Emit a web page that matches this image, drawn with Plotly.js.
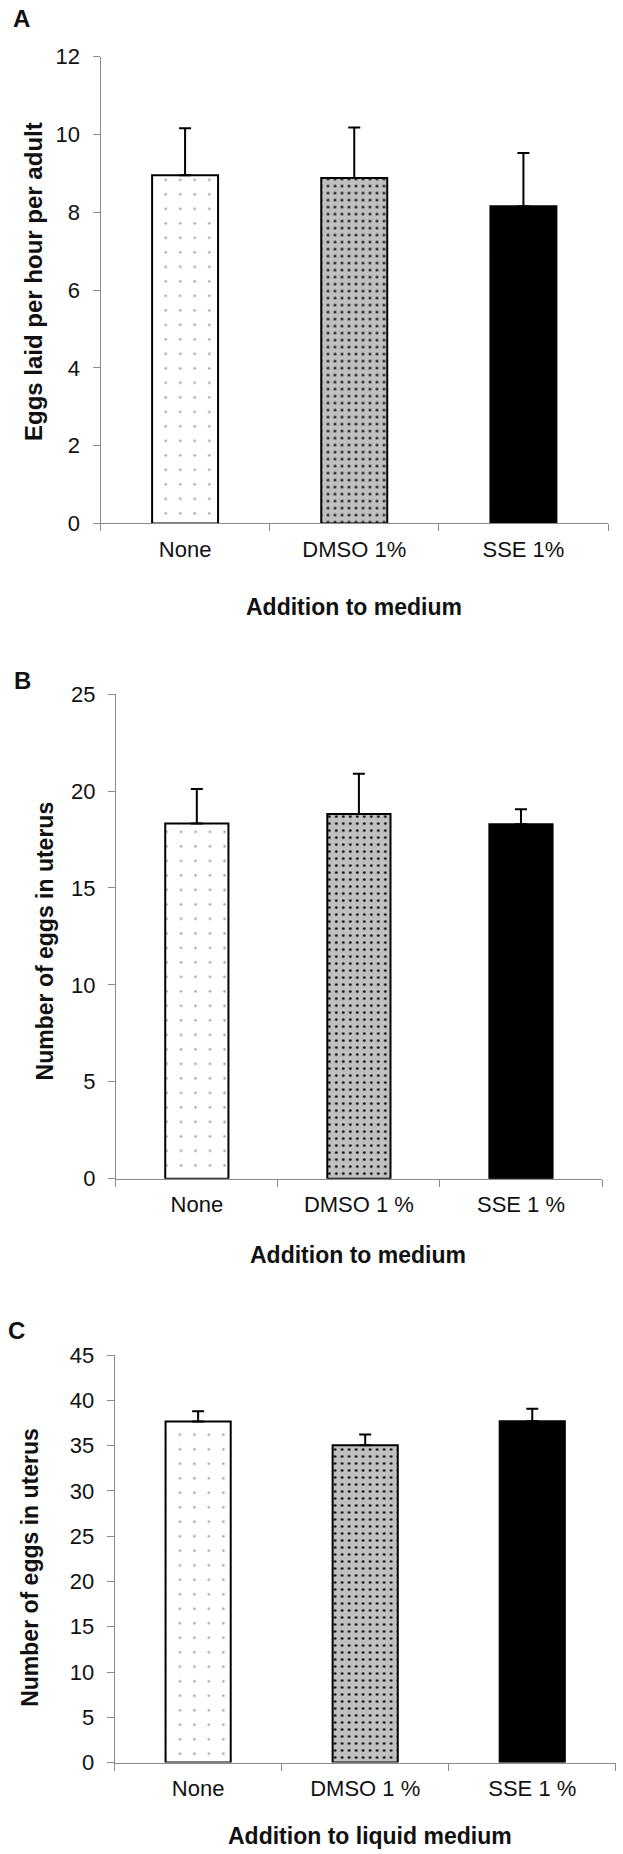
<!DOCTYPE html>
<html>
<head>
<meta charset="utf-8">
<script src="https://cdn.plot.ly/plotly-3.0.1.min.js"></script>
<style>
  html, body { margin: 0; padding: 0; background: #ffffff; }
  #chart { width: 623px; height: 1854px; }
</style>
</head>
<body>
<div id="chart"></div>
<script>
// --- data ---
const categoriesA = ['None', 'DMSO 1%', 'SSE 1%'];
const categoriesBC = ['None', 'DMSO 1 %', 'SSE 1 %'];

const eggsLaidMean = [8.95, 8.88, 8.15];
const eggsLaidErr = [1.21, 1.30, 1.37];

const uterusMean = [18.33, 18.82, 18.28];
const uterusErr = [1.78, 2.07, 0.78];

const uterusLiquidMean = [37.65, 35.03, 37.69];
const uterusLiquidErr = [1.13, 1.19, 1.38];

const panelLetters = ['A', 'B', 'C'];
const yTitles = ['Eggs laid per hour per adult', 'Number of eggs in uterus', 'Number of eggs in uterus'];
const xTitles = ['Addition to medium', 'Addition to medium', 'Addition to liquid medium'];

// --- page geometry (pixels) ---
const W = 623, H = 1854;
const FONT = 'Arial, "Liberation Sans", sans-serif';
const AXIS_GREY = '#8a8a8a';

const dx = (px) => px / W;
const dy = (py) => 1 - py / H;

// plot boxes: left, right, top, bottom
const boxes = [
  { l: 100.5, r: 608, t: 56.6, b: 523.4 },
  { l: 115.8, r: 602, t: 694.1, b: 1178.7 },
  { l: 114.6, r: 615.8, t: 1355, b: 1762.6 }
];

// fill styles per treatment: sparse grey dots on white, black dots on grey, solid black
const fills = [
  { color: '#ffffff', shape: '.', fg: '#a0a0a0', size: 14.5, solidity: 0.022 },
  { color: '#c0c0c0', shape: '.', fg: '#000000', size: 7, solidity: 0.11 },
  { color: '#000000', shape: '', fg: '#000000', size: 8, solidity: 0.1 }
];

const data = [];
function addPanel(cats, means, errs, n) {
  cats.forEach((c, j) => {
    const f = fills[j];
    data.push({
      type: 'bar',
      x: [c],
      y: [means[j]],
      xaxis: n === 1 ? 'x' : 'x' + n,
      yaxis: n === 1 ? 'y' : 'y' + n,
      width: 0.39,
      marker: {
        color: f.color,
        line: { color: '#000000', width: 2 },
        pattern: {
          shape: f.shape,
          fillmode: 'overlay',
          fgcolor: f.fg,
          fgopacity: 1,
          size: f.size,
          solidity: f.solidity
        }
      },
      error_y: {
        type: 'data',
        symmetric: false,
        array: [errs[j]],
        arrayminus: [0],
        color: '#000000',
        thickness: 2,
        width: 6
      },
      showlegend: false
    });
  });
}
addPanel(categoriesA, eggsLaidMean, eggsLaidErr, 1);
addPanel(categoriesBC, uterusMean, uterusErr, 2);
addPanel(categoriesBC, uterusLiquidMean, uterusLiquidErr, 3);

const yRanges = [[0, 12], [0, 25], [0, 45]];
const yDticks = [2, 5, 5];

const layout = {
  width: W,
  height: H,
  margin: { l: 0, r: 0, t: 0, b: 0 },
  paper_bgcolor: '#ffffff',
  plot_bgcolor: '#ffffff',
  font: { family: FONT, color: '#111111', size: 22 },
  barmode: 'overlay',
  annotations: []
};

boxes.forEach((b, i) => {
  const n = i + 1;
  const xk = n === 1 ? 'xaxis' : 'xaxis' + n;
  const yk = n === 1 ? 'yaxis' : 'yaxis' + n;
  layout[xk] = {
    domain: [dx(b.l), dx(b.r)],
    anchor: n === 1 ? 'y' : 'y' + n,
    type: 'category',
    categoryorder: 'array',
    categoryarray: n === 1 ? categoriesA : categoriesBC,
    range: [-0.5, 2.5],
    showline: true,
    linecolor: AXIS_GREY,
    linewidth: 1,
    ticks: 'outside',
    tickson: 'boundaries',
    ticklen: 7,
    tickcolor: AXIS_GREY,
    ticklabelstandoff: 6,
    showgrid: false,
    zeroline: false,
    fixedrange: true,
    tickfont: { size: 22, color: '#111111' }
  };
  layout[yk] = {
    domain: [dy(b.b), dy(b.t)],
    anchor: n === 1 ? 'x' : 'x' + n,
    range: yRanges[i],
    dtick: yDticks[i],
    tick0: 0,
    showline: true,
    linecolor: AXIS_GREY,
    linewidth: 1,
    ticks: 'outside',
    ticklen: 7,
    tickcolor: AXIS_GREY,
    ticklabelstandoff: 8,
    showgrid: false,
    zeroline: false,
    fixedrange: true,
    tickfont: { size: 22, color: '#111111' }
  };
});

// panel letters and axis titles
const letterPos = [[21.7, 18.3], [22, 680], [16, 1330.5]];
const yTitlePos = [[34, 282], [44.7, 940.7], [29.8, 1567]];
const xTitlePos = [[354, 607], [357.5, 1255], [370, 1835.6]];

const bold = (s) => '<b>' + s + '</b>';

for (let i = 0; i < 3; i++) {
  layout.annotations.push({
    text: bold(panelLetters[i]),
    xref: 'paper', yref: 'paper',
    x: dx(letterPos[i][0]), y: dy(letterPos[i][1]),
    xanchor: 'center', yanchor: 'middle',
    showarrow: false,
    font: { size: 24, color: '#111111' }
  });
  layout.annotations.push({
    text: bold(yTitles[i]),
    xref: 'paper', yref: 'paper',
    x: dx(yTitlePos[i][0]), y: dy(yTitlePos[i][1]),
    xanchor: 'center', yanchor: 'middle',
    textangle: -90,
    showarrow: false,
    font: { size: i === 0 ? 24 : 23, color: '#111111' }
  });
  layout.annotations.push({
    text: bold(xTitles[i]),
    xref: 'paper', yref: 'paper',
    x: dx(xTitlePos[i][0]), y: dy(xTitlePos[i][1]),
    xanchor: 'center', yanchor: 'middle',
    showarrow: false,
    font: { size: 23, color: '#111111' }
  });
}

Plotly.newPlot('chart', data, layout, { displayModeBar: false, staticPlot: true });
</script>
</body>
</html>
